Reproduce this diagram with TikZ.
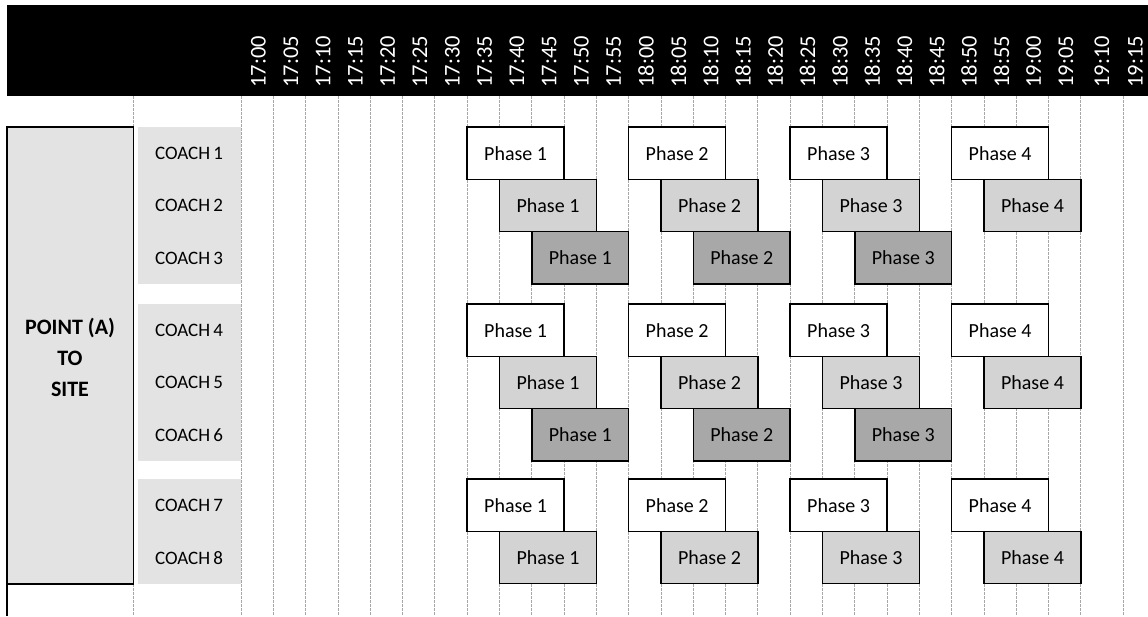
\documentclass[tikz,border=0pt]{standalone}
\usepackage{xcolor}
\usepackage{fontspec}
\setmainfont{Carlito}
\usepackage{tikz}
\usetikzlibrary{positioning}
\definecolor{cellgray}{HTML}{E3E3E3}
\definecolor{midgray}{HTML}{D3D3D3}
\definecolor{deepgray}{HTML}{A8A8A8}
\tikzset{
    header/.style={fill=black, draw=none},
    timelabel/.style={text=white, rotate=90, anchor=west, inner sep=0pt,
        font=\fontsize{22.5}{22.5}\selectfont},
    gridline/.style={draw=gray!70, line width=0.7pt, dash pattern=on 2.5pt off 1.5pt},
    coachcell/.style={fill=cellgray, draw=none},
    coachlabel/.style={inner sep=0pt, font=\fontsize{19}{19}\selectfont},
    routebox/.style={rectangle, draw=black, line width=1.6pt, fill=cellgray},
    routelabel/.style={align=center, inner sep=0pt,
        font=\bfseries\fontsize{22}{31}\selectfont},
    % Phase box styles
    phasebox/.style={rectangle, draw=black, line width=1.5pt, anchor=north west,
        minimum width=96.9pt, minimum height=52.3pt, inner sep=0pt, outer sep=0pt,
        font=\fontsize{20}{20}\selectfont},
    phaseA/.style={phasebox, fill=white},
    phaseB/.style={phasebox, fill=midgray},
    phaseC/.style={phasebox, fill=deepgray}
}
\begin{document}
\begin{tikzpicture}[x=1pt, y=-1pt]
    \useasboundingbox (0,0) rectangle (1148,616);

    % header band and times
    \fill [header] (7,5) rectangle (1148,96);
    \foreach \t [count=\i from 0] in {17:00,17:05,17:10,17:15,17:20,17:25,17:30,17:35,17:40,17:45,17:50,17:55,18:00,18:05,18:10,18:15,18:20,18:25,18:30,18:35,18:40,18:45,18:50,18:55,19:00,19:05}
        \node (t\i) [timelabel] at ({258.5+32.3*\i},88) {\t};
    \node (t26) [timelabel] at (1102,88) {19:10};
    \node (t27) [timelabel] at (1135.5,88) {19:15};

    % grid
    \foreach \i in {0,...,26}
        \draw [gridline] ({241+32.3*\i},96) -- ({241+32.3*\i},616);
    \draw [gridline] (1123,96) -- (1123,616);
    \draw [gridline] (133.5,96) -- (133.5,127);
    \draw [gridline] (133.5,584) -- (133.5,616);

    % coach column
    \fill [coachcell] (138,127) rectangle (241,284);
    \fill [coachcell] (138,304) rectangle (241,461);
    \fill [coachcell] (138,479) rectangle (241,584);

    % route
    \draw [routebox] (7,127) rectangle (133.5,584);
    \draw [line width=1.6pt] (7,584) -- (7,616);
    \node (route) [routelabel] at (70,357) {POINT (A)\\TO\\SITE};

    % coaches and phases
    \foreach \k/\ytop/\off/\sty/\last in {1/127/0/phaseA/4, 2/179.3/1/phaseB/4, 3/231.6/2/phaseC/3,
            4/304/0/phaseA/4, 5/356.3/1/phaseB/4, 6/408.6/2/phaseC/3,
            7/479/0/phaseA/4, 8/531.3/1/phaseB/4} {
        \node (coach\k) [coachlabel] at (189,{\ytop+26.5}) {COACH\,\k};
        \foreach \j in {1,...,\last}
            \node (c\k p\j) [\sty] at ({467.2+32.3*(5*(\j-1)+\off)},\ytop) {Phase \j};
    }
\end{tikzpicture}
\end{document}
